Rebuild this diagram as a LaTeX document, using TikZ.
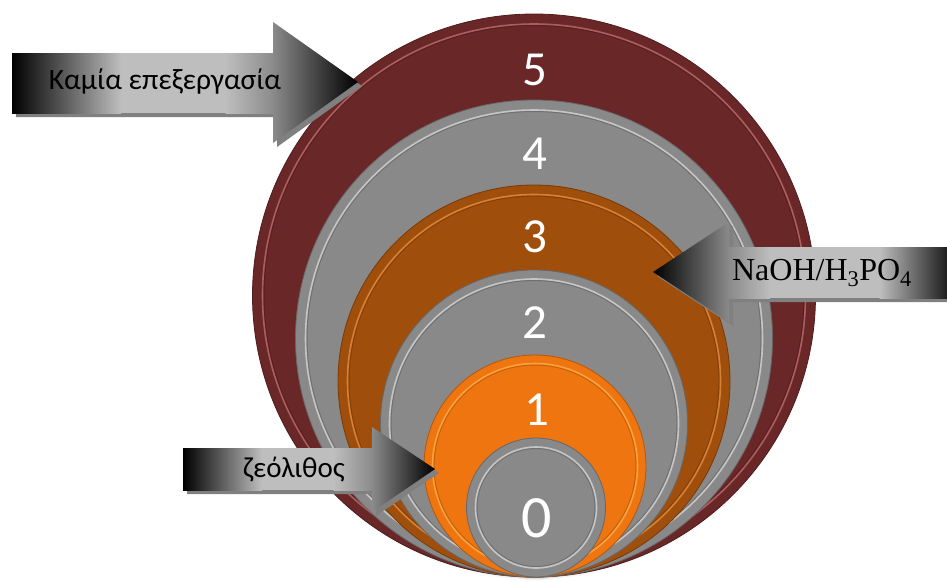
\documentclass[tikz,border=0pt]{standalone}
\usepackage{fontspec}
\setmainfont{Carlito}
\newfontfamily\timesfont{Liberation Serif}
\usetikzlibrary{shadows}
\definecolor{maroonC}{HTML}{692728}
\definecolor{maroonL}{HTML}{C57070}
\definecolor{greyC}{HTML}{898989}
\definecolor{greyL}{HTML}{DADADA}
\definecolor{brownC}{HTML}{A04E0B}
\definecolor{brownL}{HTML}{E89445}
\definecolor{orangeC}{HTML}{EE7510}
\definecolor{orangeL}{HTML}{FFB24A}
\definecolor{arrowmid}{HTML}{BEBEBE}
\definecolor{arrowgrey}{HTML}{8A8A8A}
\definecolor{arrowend}{HTML}{1E1E1E}
\definecolor{arrowshadow}{HTML}{808080}
\tikzset{
  disc/.style={circle, inner sep=0pt, fill=#1, draw=#1!75!black, line width=0.8pt,
    circular drop shadow={shadow xshift=0pt, shadow yshift=-3pt, opacity=0.35, shadow scale=1.0}},
  bevel/.style={draw=#1, line width=1.6pt, opacity=0.75},
  bevelshade/.style={draw=black, line width=1pt, opacity=0.18},
  digit/.style={text=white, inner sep=0pt, font=\fontsize{49}{49}\selectfont},
  darktolight/.style={draw=none, left color=black, right color=arrowmid},
  lighttodark/.style={draw=none, left color=arrowmid, right color=arrowend},
  lighttogrey/.style={draw=none, left color=arrowmid, right color=arrowgrey},
  greytolight/.style={draw=none, left color=arrowgrey, right color=arrowmid},
  greytoblack/.style={draw=none, left color=arrowgrey, right color=black},
  blacktogrey/.style={draw=none, left color=black, right color=arrowgrey},
  flatlight/.style={fill=arrowmid},
  arrowshadowstyle/.style={fill=arrowshadow},
  arrowtext/.style={inner sep=0pt, text=black}
}
\begin{document}
\begin{tikzpicture}[x=1pt,y=-1pt]
\useasboundingbox (0,0) rectangle (947,581);

% discs, largest first
\node[disc=maroonC, minimum size=563pt] (c5) at (534,295.5) {};
\draw[bevelshade] (c5.center) circle (270);
\draw[bevel=maroonL] (c5.center) circle (271.5);

\node[disc=greyC, minimum size=477pt] (c4) at (534,338.5) {};
\draw[bevelshade] (c4.center) circle (227);
\draw[bevel=greyL] (c4.center) circle (228.5);

\node[disc=brownC, minimum size=392pt] (c3) at (534,381) {};
\draw[bevelshade] (c3.center) circle (185);
\draw[bevel=brownL] (c3.center) circle (186.5);

\node[disc=greyC, minimum size=307pt] (c2) at (534,423.5) {};
\draw[bevelshade] (c2.center) circle (143);
\draw[bevel=greyL] (c2.center) circle (144.5);

\node[disc=orangeC, minimum size=222pt] (c1) at (535,466) {};
\draw[bevelshade] (c1.center) circle (101);
\draw[bevel=orangeL] (c1.center) circle (102.5);

\node[disc=greyC, minimum size=139pt] (c0) at (536,507.5) {};
\draw[bevelshade] (c0.center) circle (59);
\draw[bevel=greyL] (c0.center) circle (60.5);

% numbers
\node[digit] (l5) at (535,70) {5};
\node[digit] (l4) at (535,154) {4};
\node[digit] (l3) at (535,237) {3};
\node[digit] (l2) at (535,323) {2};
\node[digit] (l1) at (537,410) {1};
\node[digit, font=\fontsize{60}{60}\selectfont] (l0) at (537,518) {0};

% arrow: Καμία επεξεργασία
\fill[arrowshadowstyle] (16,57) -- (277,57) -- (277,26) -- (362,86) -- (277,147) -- (277,117) -- (16,117) -- cycle;
\shade[darktolight] (12,53) rectangle (121,113);
\fill[flatlight] (120.5,53) rectangle (226,113);
\shade[lighttogrey] (225.5,53) rectangle (273.5,113);
\shade[greytoblack] (273,22) -- (358,82) -- (273,143) -- cycle;
\node[arrowtext, font=\fontsize{29.5}{29.5}\selectfont] (t1) at (165,81) {Καμία επεξεργασία};

% arrow: NaOH/H3PO4
\fill[arrowshadowstyle] (657,276) -- (733,226) -- (733,251) -- (951,251) -- (951,302) -- (733,302) -- (733,326) -- cycle;
\shade[blacktogrey] (653,272) -- (729,222) -- (729,322) -- cycle;
\shade[greytolight] (728.5,247) rectangle (770,298);
\fill[flatlight] (769.5,247) rectangle (880,298);
\shade[lighttodark] (879.5,247) rectangle (947,298);
\node[arrowtext, font=\timesfont\fontsize{32}{32}\selectfont] (t2) at (822,273) {NaOH/H\textsubscript{3}PO\textsubscript{4}};

% arrow: ζεόλιθος
\fill[arrowshadowstyle] (187,452) -- (376,452) -- (376,431) -- (439,473) -- (376,516) -- (376,494) -- (187,494) -- cycle;
\shade[darktolight] (183,448) rectangle (262,490);
\fill[flatlight] (261.5,448) rectangle (334,490);
\shade[lighttogrey] (333.5,448) rectangle (372.5,490);
\shade[greytoblack] (372,427) -- (435,469) -- (372,512) -- cycle;
\node[arrowtext, font=\fontsize{29}{29}\selectfont] (t3) at (294,470) {ζεόλιθος};
\end{tikzpicture}
\end{document}
